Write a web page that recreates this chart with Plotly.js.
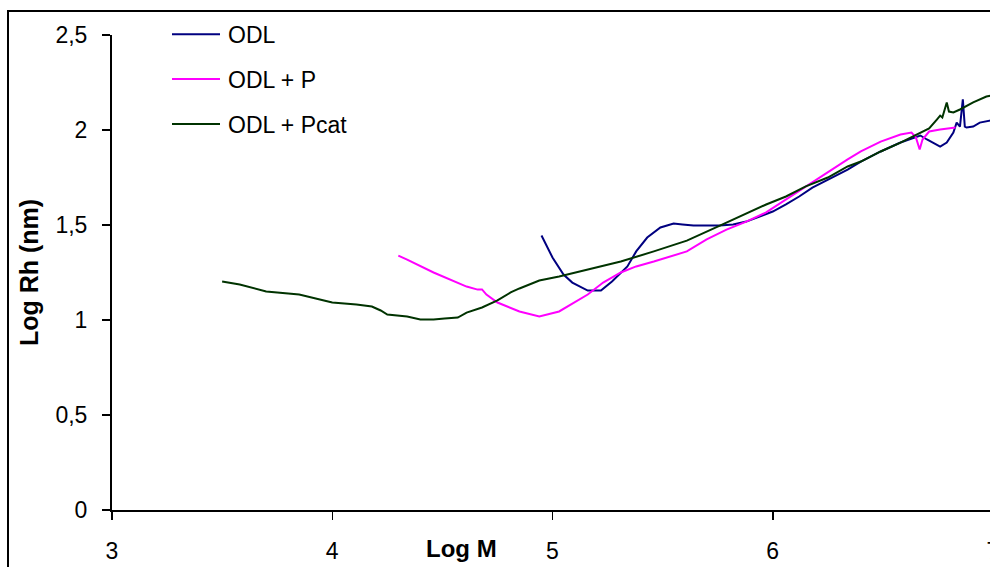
<!DOCTYPE html>
<html>
<head>
<meta charset="utf-8">
<script src="https://cdn.plot.ly/plotly-3.0.1.min.js"></script>
<style>
html, body { margin:0; padding:0; overflow:hidden; background:#fff; width:990px; height:567px; }
#frame { position:absolute; left:7px; top:10px; width:1100px; height:700px; border-left:2.5px solid #000; border-top:2.5px solid #000; pointer-events:none; }
#chart { position:absolute; left:0; top:0; }
</style>
</head>
<body>
<div id="chart"></div>
<div id="frame"></div>
<script>
// Series names
const seriesNames = ["ODL", "ODL + P", "ODL + Pcat"];

// ODL (blue)
const odlX = [4.95, 5.00, 5.05, 5.09, 5.16, 5.22, 5.27, 5.34, 5.38, 5.43, 5.49, 5.55, 5.59, 5.64, 5.76, 5.82, 5.88, 5.94, 6.00, 6.06, 6.12, 6.18, 6.25, 6.34, 6.40, 6.49, 6.58, 6.67, 6.70, 6.745, 6.76, 6.79, 6.82, 6.835, 6.85, 6.863, 6.872, 6.88, 6.91, 6.94, 6.98, 7.01];
const odlY = [1.445, 1.329, 1.239, 1.197, 1.155, 1.155, 1.203, 1.282, 1.361, 1.434, 1.487, 1.508, 1.503, 1.497, 1.497, 1.503, 1.518, 1.545, 1.571, 1.608, 1.650, 1.697, 1.739, 1.792, 1.834, 1.887, 1.934, 1.971, 1.950, 1.924, 1.913, 1.934, 1.987, 2.039, 2.018, 2.161, 2.018, 2.013, 2.018, 2.039, 2.050, 2.055];

// ODL + P (magenta)
const odlPX = [4.30, 4.34, 4.46, 4.61, 4.66, 4.68, 4.70, 4.75, 4.85, 4.94, 5.03, 5.16, 5.23, 5.31, 5.38, 5.46, 5.61, 5.70, 5.79, 5.88, 5.97, 6.06, 6.15, 6.25, 6.34, 6.40, 6.49, 6.58, 6.63, 6.65, 6.667, 6.68, 6.71, 6.76, 6.83];
const odlPY = [1.339, 1.318, 1.250, 1.176, 1.160, 1.161, 1.134, 1.092, 1.045, 1.018, 1.045, 1.134, 1.197, 1.250, 1.282, 1.308, 1.361, 1.424, 1.476, 1.518, 1.566, 1.634, 1.703, 1.776, 1.845, 1.887, 1.939, 1.976, 1.987, 1.961, 1.897, 1.950, 1.992, 2.003, 2.013];

// ODL + Pcat (dark green)
const odlPcatX = [3.50, 3.58, 3.70, 3.85, 4.00, 4.11, 4.18, 4.22, 4.25, 4.34, 4.40, 4.46, 4.51, 4.57, 4.61, 4.68, 4.75, 4.81, 4.85, 4.94, 5.03, 5.16, 5.31, 5.46, 5.61, 5.76, 5.85, 5.97, 6.06, 6.15, 6.25, 6.34, 6.40, 6.49, 6.58, 6.67, 6.71, 6.745, 6.76, 6.77, 6.79, 6.80, 6.82, 6.85, 6.91, 6.97, 7.01];
const odlPcatY = [1.203, 1.187, 1.150, 1.134, 1.092, 1.082, 1.071, 1.050, 1.029, 1.018, 1.003, 1.003, 1.008, 1.013, 1.039, 1.066, 1.103, 1.145, 1.166, 1.208, 1.229, 1.266, 1.308, 1.361, 1.418, 1.497, 1.545, 1.608, 1.650, 1.703, 1.750, 1.808, 1.834, 1.887, 1.934, 1.987, 2.008, 2.055, 2.076, 2.066, 2.145, 2.097, 2.092, 2.108, 2.145, 2.176, 2.185];

// Axis ticks
const xTickVals = [3, 4, 5, 6, 7];
const yTickVals = [0, 0.5, 1, 1.5, 2, 2.5];

const colors = ["#000080", "#FF00FF", "#003300"];
const FONT = "Liberation Sans, Arial, sans-serif";

const xs = [odlX, odlPX, odlPcatX];
const ys = [odlY, odlPY, odlPcatY];

const traces = seriesNames.map((n, i) => ({
  type: "scatter", mode: "lines", name: n,
  x: xs[i], y: ys[i], legendgroup: "g" + i,
  line: { color: colors[i], width: 2 }
}));

const layout = {
  width: 1000, height: 580,
  margin: { l: 112, r: 7, t: 35, b: 70, pad: 0 },
  paper_bgcolor: "#fff", plot_bgcolor: "#fff",
  separators: ", ",
  font: { family: FONT, size: 23, color: "#000" },
  showlegend: true,
  legend: {
    x: (170 - 112) / 881, xanchor: "left",
    y: 1.047, yanchor: "top",
    bgcolor: "rgba(0,0,0,0)", borderwidth: 0,
    font: { family: FONT, size: 23, color: "#000" },
    tracegroupgap: 12, itemwidth: 48
  },
  xaxis: {
    range: [3, 7], tickvals: xTickVals, ticks: "outside", ticklen: 8, tickwidth: 1.5, tickcolor: "#000",
    showline: true, linewidth: 2, linecolor: "#000", showgrid: false, zeroline: false,
    tickfont: { family: FONT, size: 23 }, ticklabelstandoff: 11, fixedrange: true
  },
  yaxis: {
    range: [0, 2.5], tickvals: yTickVals, ticks: "outside", ticklen: 8, tickwidth: 1.5, tickcolor: "#000",
    showline: true, linewidth: 2, linecolor: "#000", showgrid: false, zeroline: false,
    tickfont: { family: FONT, size: 23 }, ticklabelstandoff: 10, fixedrange: true,
    title: { text: "<b>Log Rh (nm)</b>", font: { family: FONT, size: 25 }, standoff: 10 }
  },
  annotations: [{
    text: "<b>Log M</b>", xref: "x", yref: "paper", x: 4.585, y: -0.082,
    xanchor: "center", yanchor: "middle", showarrow: false,
    font: { family: FONT, size: 24, color: "#000" }
  }]
};

Plotly.newPlot("chart", traces, layout, { staticPlot: true, displayModeBar: false }).then(gd => {
  gd.querySelectorAll(".legend .js-line").forEach(p => p.setAttribute("d", "M2,0h48"));
});
</script>
</body>
</html>
